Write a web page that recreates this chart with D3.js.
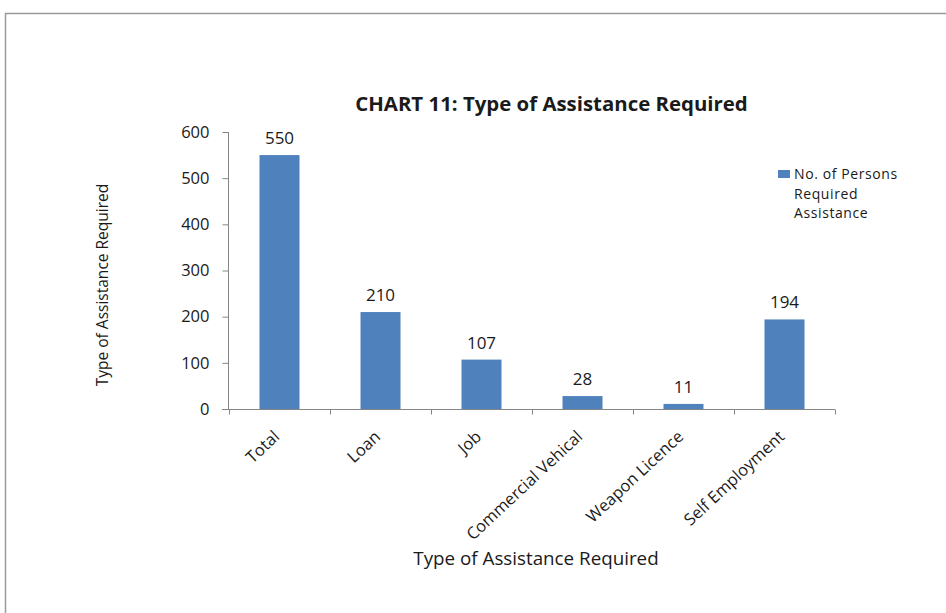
<!DOCTYPE html>
<html><head><meta charset="utf-8">
<script src="https://cdn.jsdelivr.net/npm/d3@7"></script>
<style>body{margin:0;background:#fff;} svg{display:block;}</style>
</head><body>
<svg id="c" width="946" height="613"></svg>
<script>
const categories = ["Total","Loan","Job","Commercial Vehical","Weapon Licence","Self Employment"];
const values = [550,210,107,28,11,194];
const yTicks = [0,100,200,300,400,500,600];
const seriesName = ["No. of Persons","Required","Assistance"];
const titleText = "CHART 11: Type of Assistance Required";
const xTitle = "Type of Assistance Required";
const yTitle = "Type of Assistance Required";

const svg = d3.select("#c");
const font = "'Open Sans', 'Noto Sans', sans-serif";
const axisColor = "#868686";
const barColor = "#4F81BD";
const textColor = "#1a1a1a";

// frame
svg.append("path").attr("d","M5.5,620 L5.5,13.5 L950,13.5").attr("fill","none").attr("stroke","#9a9a9a").attr("stroke-width",1.5);

const x = d3.scaleBand().domain(categories).range([229,835]);
const y = d3.scaleLinear().domain([0,600]).range([409,132]);

// y axis
const gy = svg.append("g").attr("transform","translate(228.5,0)")
  .call(d3.axisLeft(y).tickValues(yTicks).tickSize(6).tickPadding(13));
gy.select(".domain").attr("stroke",axisColor).attr("d","M0,132V409.5");
gy.selectAll(".tick line").attr("stroke",axisColor);
gy.selectAll("text").attr("font-family",font).attr("font-size",16.5).attr("fill",textColor);

// x axis
const gx = svg.append("g").attr("transform","translate(0,409.5)")
  .call(d3.axisBottom(x).tickSize(0).tickFormat(""));
gx.select(".domain").attr("stroke",axisColor).attr("d","M222,0H835");
const bounds = categories.map(c=>x(c)).concat([x.range()[1]]);
gx.selectAll(".bt").data(bounds).enter().append("line").attr("class","bt")
  .attr("x1",d=>d+0.5).attr("x2",d=>d+0.5).attr("y1",0).attr("y2",5).attr("stroke",axisColor);

// bars
const bw = 40;
svg.selectAll(".bar").data(values).enter().append("rect")
  .attr("x",(d,i)=>x(categories[i])+x.bandwidth()/2-bw/2)
  .attr("y",d=>y(d)).attr("width",bw).attr("height",d=>y(0)-y(d)).attr("fill",barColor);

// data labels
svg.selectAll(".lbl").data(values).enter().append("text")
  .attr("x",(d,i)=>x(categories[i])+x.bandwidth()/2)
  .attr("y",d=>y(d)-11).attr("text-anchor","middle")
  .attr("font-family",font).attr("font-size",17).attr("fill",textColor).text(d=>d);

// x labels rotated
svg.selectAll(".xl").data(categories).enter().append("text")
  .attr("transform",d=>`translate(${x(d)+x.bandwidth()/2+1},${438}) rotate(-43)`)
  .attr("text-anchor","end").attr("font-family",font).attr("font-size",16.5).attr("fill",textColor).text(d=>d);

// title
svg.append("text").attr("x",551.5).attr("y",111).attr("text-anchor","middle")
  .attr("font-family",font).attr("font-weight","bold").attr("font-size",20.4).attr("fill",textColor).text(titleText);

// axis titles
svg.append("text").attr("x",536).attr("y",565).attr("text-anchor","middle")
  .attr("font-family",font).attr("font-size",18.8).attr("fill",textColor).text(xTitle);
svg.append("text").attr("transform","translate(108,285) rotate(-90)").attr("text-anchor","middle")
  .attr("font-family",font).attr("font-size",15.5).attr("fill",textColor).text(yTitle);

// legend
svg.append("rect").attr("x",778).attr("y",170).attr("width",12).attr("height",8).attr("fill",barColor);
svg.selectAll(".lg").data(seriesName).enter().append("text")
  .attr("x",794).attr("y",(d,i)=>179+i*19.5)
  .attr("font-family",font).attr("font-size",14).attr("letter-spacing",0.6).attr("fill",textColor).text(d=>d);
</script>
</body></html>
